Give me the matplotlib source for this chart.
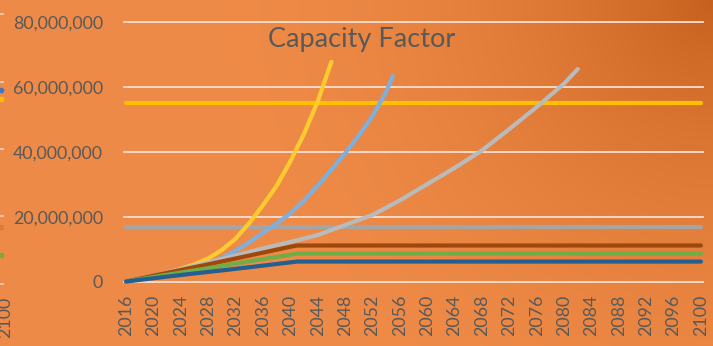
import numpy as np
import matplotlib
matplotlib.use("Agg")
import matplotlib.pyplot as plt
from matplotlib.ticker import FuncFormatter
from matplotlib.lines import Line2D

# values in millions
plateau_years = [2016, 2020, 2024, 2028, 2032, 2036, 2040, 2041, 2100]
dark_blue = [0, 1.0, 2.0, 2.95, 3.9, 4.9, 5.9, 6.15, 6.15]
green = [0, 1.4, 2.75, 4.1, 5.5, 6.9, 8.25, 8.6, 8.6]
brown = [0, 1.8, 3.55, 5.3, 7.1, 8.9, 10.7, 11.1, 11.1]

flat_years = [2016, 2100]
gray_flat = [16.9, 16.9]
yellow_flat = [55.0, 55.0]

gold_years = [2016, 2018, 2020, 2022, 2024, 2026, 2028, 2030, 2032, 2034,
              2036, 2038, 2040, 2042, 2044, 2046]
gold = [0, 0.8, 1.7, 2.7, 3.9, 5.3, 7.1, 9.7, 13.2, 18.0,
        23.5, 29.5, 37.0, 45.5, 55.5, 67.7]

lblue_years = [2016, 2018, 2020, 2022, 2024, 2026, 2028, 2030, 2032, 2034,
               2036, 2038, 2040, 2042, 2044, 2046, 2048, 2050, 2052, 2054, 2055]
lblue = [0, 0.8, 1.6, 2.4, 3.3, 4.3, 5.5, 7.2, 9.5, 12.1,
         15.0, 17.9, 21.0, 25.0, 29.5, 34.5, 39.5, 45.0, 51.0, 58.5, 63.4]

lgray_years = [2016, 2020, 2024, 2028, 2032, 2036, 2040, 2044, 2048, 2052,
               2056, 2060, 2064, 2068, 2072, 2076, 2080, 2082]
lgray = [0, 1.8, 3.8, 5.9, 8.0, 10.2, 12.2, 14.3, 17.4, 20.5,
         25.0, 30.0, 35.0, 40.4, 47.0, 53.8, 61.0, 65.5]

x_ticks = list(range(2016, 2101, 4))
y_ticks = [0, 20e6, 40e6, 60e6, 80e6]

TEXT = "#595959"
plt.rcParams["font.family"] = ["Lato", "DejaVu Sans"]

fig = plt.figure(figsize=(7.13, 3.46), dpi=100)

# orange background, darker toward the top right corner
bg = fig.add_axes([0, 0, 1, 1], zorder=-5)
bg.axis("off")
gx, gy = np.meshgrid(np.linspace(0, 1, 300), np.linspace(0, 1, 150))
dist = np.sqrt(((1 - gx) * 2.06) ** 2 + (1 - gy) ** 2)
t = np.clip(1 - dist / 1.6, 0, 1) ** 2.2
light = np.array([0.937, 0.545, 0.28])
dark = np.array([0.78, 0.38, 0.12])
img = light[None, None, :] * (1 - t[..., None]) + dark[None, None, :] * t[..., None]
bg.imshow(img, origin="lower", extent=[0, 1, 0, 1], aspect="auto")
bg.set_xlim(0, 1)
bg.set_ylim(0, 1)

ax = fig.add_axes([124 / 713, 1 - 281.5 / 346, 579 / 713, 259.5 / 346])
ax.set_facecolor("none")
for s in ax.spines.values():
    s.set_visible(False)

ax.set_xlim(2015.7, 2100.3)
ax.set_ylim(0, 80e6)

for yv in y_ticks:
    ax.axhline(yv, color="#F3E0D2", lw=1.3, zorder=1, clip_on=False)

M = 1e6
style = dict(lw=3.0, solid_capstyle="round", clip_on=False, zorder=3)
ax.plot(flat_years, np.array(yellow_flat) * M, color="#FFC000", **style)
ax.plot(flat_years, np.array(gray_flat) * M, color="#A5A5A5", **style)
ax.plot(gold_years, np.array(gold) * M, color="#FFCB30", **style)
ax.plot(lblue_years, np.array(lblue) * M, color="#7DB0DE", **style)
ax.plot(lgray_years, np.array(lgray) * M, color="#BABABA", **style)
ax.plot(plateau_years, np.array(brown) * M, color="#9E480E", **style)
ax.plot(plateau_years, np.array(green) * M, color="#70AD47", **style)
ax.plot(plateau_years, np.array(dark_blue) * M, color="#255E91", **style)

ax.set_xticks(x_ticks)
ax.set_xticklabels([str(x) for x in x_ticks], rotation=90)
ax.set_yticks(y_ticks)
ax.yaxis.set_major_formatter(FuncFormatter(lambda v, p: f"{v:,.0f}"))
ax.tick_params(axis="both", length=0, colors=TEXT, labelsize=12.8)
ax.tick_params(axis="y", pad=15)
ax.tick_params(axis="x", pad=9.5)

fig.text(362 / 713, 1 - 40 / 346, "Capacity Factor", ha="center", va="center",
         fontsize=19.5, color=TEXT)

# leftovers of the neighbouring chart at the left edge
for yp in [14, 82, 149, 216, 284]:
    fig.add_artist(Line2D([0, 3 / 713], [1 - yp / 346] * 2, color="#E6D3C6",
                          lw=1.2, transform=fig.transFigure))
for yp, c in [(90, "#4472C4"), (99, "#FFC000"), (227, "#E07A3A"), (255, "#70AD47")]:
    fig.add_artist(Line2D([1 / 713], [1 - yp / 346], marker="o", markersize=3,
                          color=c, transform=fig.transFigure))
fig.text(-3 / 713, 1 - 317 / 346, "2100", rotation=90, ha="left", va="center",
         fontsize=12.8, color=TEXT)

fig.savefig("out.png", dpi=100)
